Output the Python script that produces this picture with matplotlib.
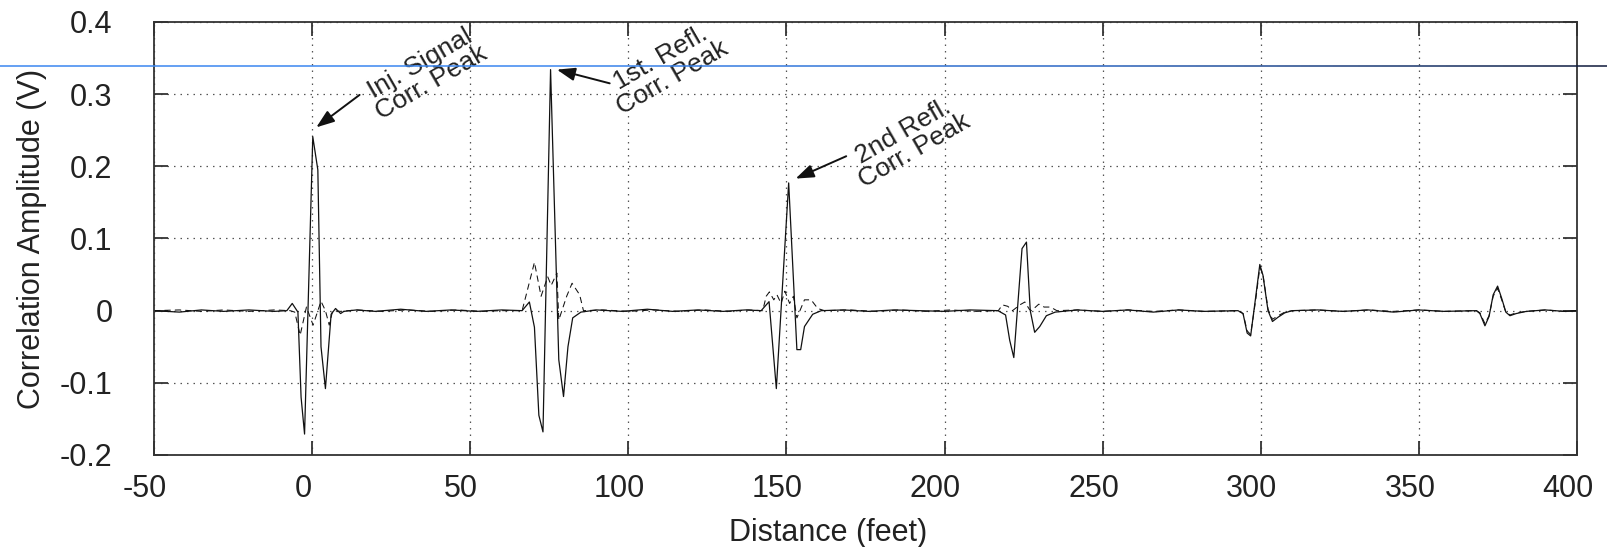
import numpy as np
import matplotlib.pyplot as plt
import matplotlib.transforms as mtransforms
from matplotlib.collections import LineCollection
from matplotlib.colors import LinearSegmentedColormap

plt.rcParams['font.family'] = ['Liberation Sans', 'DejaVu Sans']
plt.rcParams['axes.unicode_minus'] = False

# solid trace (correlation of measured signal)
dist_solid = [-50, -42, -35, -28, -20, -12, -8, -6.3, -4.5, -3.5, -2.4, 0.2, 1.8, 2.8, 4.2, 6.0,
              7.4, 9.0, 10.0, 14, 20, 28, 36, 44, 52, 60, 66.4, 68.7, 70.3, 71.7, 73.0, 75.4,
              78.0, 79.5, 80.9, 82.4, 85, 90, 98, 106, 114, 122, 130, 137, 142.0, 144.5, 146.8,
              150.7, 153.3, 154.5, 155.7, 158.3, 161, 168, 176, 184, 192, 200, 208, 216.9, 219.3,
              220.6, 221.9, 224.5, 225.9, 227.1, 228.5, 230.1, 232.2, 235, 242, 250, 258, 266,
              274, 282, 292.8, 294.4, 295.7, 296.8, 298.4, 299.7, 300.7, 302.3, 303.7, 305.5,
              307.6, 310, 318, 326, 334, 342, 350, 358, 368.2, 369.3, 370.9, 372.2, 373.5, 374.9,
              376.2, 377.5, 378.8, 380.8, 384, 390, 396, 400]
amp_solid = [0.000, -0.002, 0.001, -0.001, 0.001, -0.001, 0.000, 0.010, -0.002, -0.120, -0.171,
             0.241, 0.195, -0.050, -0.108, -0.005, 0.003, -0.004, -0.001, 0.001, -0.001, 0.002,
             -0.001, 0.001, -0.001, 0.001, 0.000, 0.012, -0.023, -0.145, -0.168, 0.334, -0.068,
             -0.119, -0.050, -0.010, -0.002, 0.001, -0.001, 0.002, -0.001, 0.001, -0.001, 0.001,
             0.000, 0.0125, -0.108, 0.177, -0.054, -0.054, -0.022, -0.005, 0.000, 0.001, -0.001,
             0.001, 0.000, -0.001, 0.001, 0.000, -0.006, -0.041, -0.065, 0.086, 0.095, 0.000,
             -0.030, -0.022, -0.007, -0.002, 0.001, -0.001, 0.001, -0.002, 0.001, -0.001, 0.000,
             -0.004, -0.031, -0.035, 0.019, 0.064, 0.049, 0.000, -0.015, -0.009, -0.003, 0.000,
             0.001, -0.001, 0.001, -0.002, 0.001, -0.001, 0.000, -0.004, -0.021, -0.008, 0.022,
             0.034, 0.017, -0.002, -0.007, -0.004, -0.001, 0.001, -0.001, 0.000]

# dashed trace
dist_dashed = [-50, -42, -35, -28, -20, -12, -7, -5.5, -3.8, -1.8, 0.3, 2.8, 4.2, 5.4, 6.5, 9,
               14, 22, 30, 38, 46, 54, 60, 66.4, 67.7, 70.3, 72.4, 74.5, 75.6, 77.4, 78.0, 80.5,
               82.2, 84.6, 85.8, 92, 100, 108, 116, 124, 132, 138, 142.5, 143.6, 144.6, 146.0,
               147.0, 148.3, 149.5, 151.0, 152.2, 153.3, 155.7, 157.8, 159.9, 162, 170, 178, 186,
               194, 202, 210, 217, 218.3, 220, 221.5, 223.8, 225.4, 226.8, 227.5, 229.8, 231.5,
               233.5, 235.5, 242, 250, 258, 266, 274, 282, 292.8, 294.4, 295.7, 296.8, 298.4,
               299.7, 300.7, 302.3, 303.7, 305.5, 307.6, 310, 318, 326, 334, 342, 350, 358, 368.2,
               369.3, 370.9, 372.2, 373.5, 374.9, 376.2, 377.5, 378.8, 380.8, 384, 390, 396, 400]
amp_dashed = [0.000, 0.001, -0.001, 0.001, -0.001, 0.001, 0.000, -0.002, -0.034, 0.005, -0.020,
              0.013, 0.000, -0.020, 0.000, -0.001, 0.001, -0.001, 0.001, -0.001, 0.001, -0.001,
              0.000, 0.000, 0.022, 0.067, 0.020, 0.047, 0.035, 0.052, -0.013, 0.020, 0.038, 0.022,
              0.000, 0.001, -0.001, 0.001, -0.001, 0.001, -0.001, 0.001, 0.000, 0.020, 0.026,
              0.015, 0.022, 0.010, 0.027, 0.010, 0.020, -0.010, 0.015, 0.015, 0.003, 0.000, 0.001,
              -0.001, 0.001, -0.001, 0.001, -0.001, 0.000, 0.008, 0.006, 0.000, 0.008, 0.012,
              0.002, 0.000, 0.009, 0.005, 0.005, 0.000, 0.001, -0.001, 0.001, -0.001, 0.001,
              -0.001, 0.000, -0.004, -0.028, -0.033, 0.015, 0.060, 0.050, 0.002, -0.012, -0.007,
              -0.002, 0.000, 0.001, -0.001, 0.001, -0.001, 0.001, -0.001, 0.000, -0.003, -0.018,
              -0.007, 0.020, 0.031, 0.015, -0.002, -0.006, -0.003, -0.001, 0.001, -0.001, 0.000]

x_ticks = [-50, 0, 50, 100, 150, 200, 250, 300, 350, 400]
y_ticks = [-0.2, -0.1, 0, 0.1, 0.2, 0.3, 0.4]
y_tick_labels = ['-0.2', '-0.1', '0', '0.1', '0.2', '0.3', '0.4']

# (label, arrow head, arrow tail, text centre)
peak_labels = ['Inj. Signal\nCorr. Peak', '1st. Refl.\nCorr. Peak', '2nd Refl.\nCorr. Peak']
peak_heads = [(1.3, 0.254), (77.4, 0.334), (152.9, 0.183)]
peak_tails = [(15.0, 0.299), (94.1, 0.315), (168.9, 0.214)]
peak_text_pos = [(36.0, 0.329), (112.0, 0.337), (188.6, 0.235)]

fig = plt.figure(figsize=(16.08, 5.47), dpi=100)
ax = fig.add_axes([0.0958, 0.1682, 0.8849, 0.7916])

ax.plot(dist_dashed, amp_dashed, color='#111111', lw=0.75, ls=(0, (6, 4)))
ax.plot(dist_solid, amp_solid, color='#111111', lw=0.9)

ax.set_xlim(-50, 400)
ax.set_ylim(-0.2, 0.4)
ax.set_xticks(x_ticks)
ax.set_yticks(y_ticks)
ax.set_yticklabels(y_tick_labels)
ax.grid(True, color='#555555', lw=0.9, ls=(0, (1.2, 4)))

for s in ax.spines.values():
    s.set_linewidth(1.3)
    s.set_color('#333333')
ax.tick_params(direction='in', length=10, width=1.3, color='#333333',
               top=True, right=True, labelsize=22, labelcolor='#222222')
ax.tick_params(axis='x', pad=14)
ax.tick_params(axis='y', pad=30)

# the x tick labels sit a little left of their ticks in the original
shift = mtransforms.ScaledTranslation(-0.09, 0, fig.dpi_scale_trans)
for lbl in ax.get_xticklabels():
    lbl.set_transform(lbl.get_transform() + shift)

ax.set_xlabel('Distance (feet)', fontsize=22, color='#222222', labelpad=10)
ax.xaxis.label.set_x(0.474)
ax.set_ylabel('Correlation Amplitude (V)', fontsize=22, color='#222222', labelpad=9)

for lab, head, tail, pos in zip(peak_labels, peak_heads, peak_tails, peak_text_pos):
    ax.annotate('', xy=head, xytext=tail,
                arrowprops=dict(arrowstyle='-|>,head_length=1.1,head_width=0.4',
                                color='#111111', lw=1.4, shrinkA=0, shrinkB=0))
    ax.text(pos[0], pos[1], lab, rotation=30, rotation_mode='anchor',
            ha='center', va='center', fontsize=19, color='#222222', linespacing=0.95)

# thin blue cursor line across the whole image
xs = np.linspace(0, 1, 200)
segs = [[(xs[i], 0.8793), (xs[i + 1], 0.8793)] for i in range(len(xs) - 1)]
cmap = LinearSegmentedColormap.from_list('cur', ['#3a86f0', '#3a86f0', '#2a66c4', '#0e1838'])
lc = LineCollection(segs, colors=cmap(xs[:-1]), linewidths=1.1, transform=fig.transFigure)
fig.add_artist(lc)

fig.savefig('out.png', dpi=100)
